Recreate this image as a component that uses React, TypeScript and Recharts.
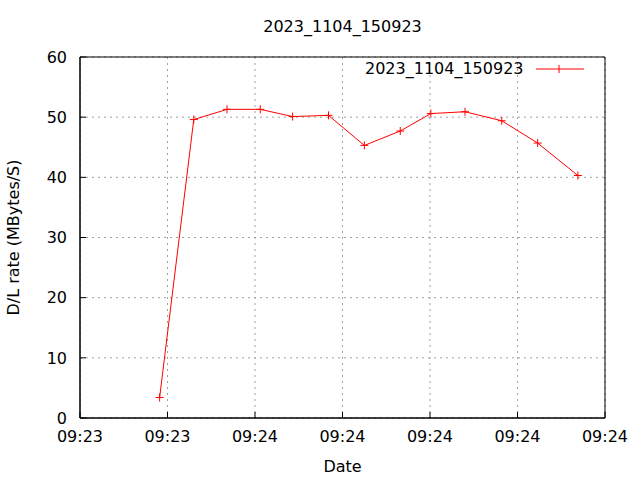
import { CartesianGrid, Line, LineChart, ReferenceArea, XAxis, YAxis } from "recharts";

// seconds after 09:23:40
const seconds = [9.1, 13.0, 16.8, 20.6, 24.3, 28.4, 32.5, 36.6, 40.1, 44.0, 48.2, 52.3, 56.9];
const rates = [3.4, 49.6, 51.3, 51.3, 50.1, 50.3, 45.3, 47.7, 50.6, 50.9, 49.4, 45.7, 40.3];
const xTicks = [0, 10, 20, 30, 40, 50, 60];
const yTicks = [0, 10, 20, 30, 40, 50, 60];
const seriesName = "2023_1104_150923";

const data = seconds.map((s, i) => ({ t: s, rate: rates[i] }));

const font = "'DejaVu Sans', sans-serif";

// 09:23:40 + s, shown as HH:MM
const fmtTime = (s: number) => {
  const total = 9 * 3600 + 23 * 60 + 40 + s;
  const h = Math.floor(total / 3600);
  const m = Math.floor((total % 3600) / 60);
  return `${String(h).padStart(2, "0")}:${String(m).padStart(2, "0")}`;
};

const Cross = (props: any) => {
  const { cx, cy } = props;
  if (cx == null || cy == null) return null;
  return (
    <path
      d={`M${cx - 4},${cy}H${cx + 4}M${cx},${cy - 4}V${cy + 4}`}
      stroke="#ff0000"
      strokeWidth={1}
      fill="none"
    />
  );
};

export default function App() {
  return (
    <div style={{ position: "absolute", left: 0, top: 0, width: 640, height: 480, background: "#fff" }}>
      <div
        style={{
          position: "absolute",
          top: 17,
          left: 80,
          width: 525,
          textAlign: "center",
          fontFamily: font,
          fontSize: 16,
        }}
      >
        {seriesName}
      </div>
      <LineChart
        width={640}
        height={480}
        data={data}
        margin={{ top: 57, right: 35, bottom: 32, left: 0 }}
        style={{ fontFamily: font }}
      >
        <CartesianGrid stroke="#a0a0a0" strokeDasharray="2 4" />
        <ReferenceArea x1={0} x2={60} y1={0} y2={60} fill="none" stroke="#000" strokeWidth={1} />
        <XAxis
          type="number"
          dataKey="t"
          domain={[0, 60]}
          ticks={xTicks}
          tickFormatter={fmtTime}
          height={30}
          stroke="#000"
          tickSize={-6}
          tickMargin={19}
          tick={{ fill: "#000", fontSize: 16 }}
          label={{ value: "Date", position: "insideBottom", offset: -24, fill: "#000", fontSize: 16 }}
        />
        <YAxis
          type="number"
          domain={[0, 60]}
          ticks={yTicks}
          width={80}
          stroke="#000"
          tickSize={-6}
          tickMargin={19}
          tick={{ fill: "#000", fontSize: 16 }}
          label={{
            value: "D/L rate (MBytes/S)",
            angle: -90,
            position: "insideLeft",
            offset: 13,
            style: { textAnchor: "middle" },
            fill: "#000",
            fontSize: 16,
          }}
        />
        <Line
          type="linear"
          dataKey="rate"
          name={seriesName}
          stroke="#ff0000"
          strokeWidth={1}
          dot={<Cross />}
          activeDot={false}
          isAnimationActive={false}
        />
      </LineChart>
      <div
        style={{
          position: "absolute",
          top: 59,
          left: 365,
          display: "flex",
          alignItems: "center",
          fontFamily: font,
          fontSize: 16,
          color: "#000",
        }}
      >
        <span>{seriesName}</span>
        <svg width={60} height={16} style={{ marginLeft: 11 }}>
          <line x1={1} y1={8} x2={49} y2={8} stroke="#ff0000" strokeWidth={1} />
          <path d="M24,4V12" stroke="#ff0000" strokeWidth={1} />
        </svg>
      </div>
    </div>
  );
}
